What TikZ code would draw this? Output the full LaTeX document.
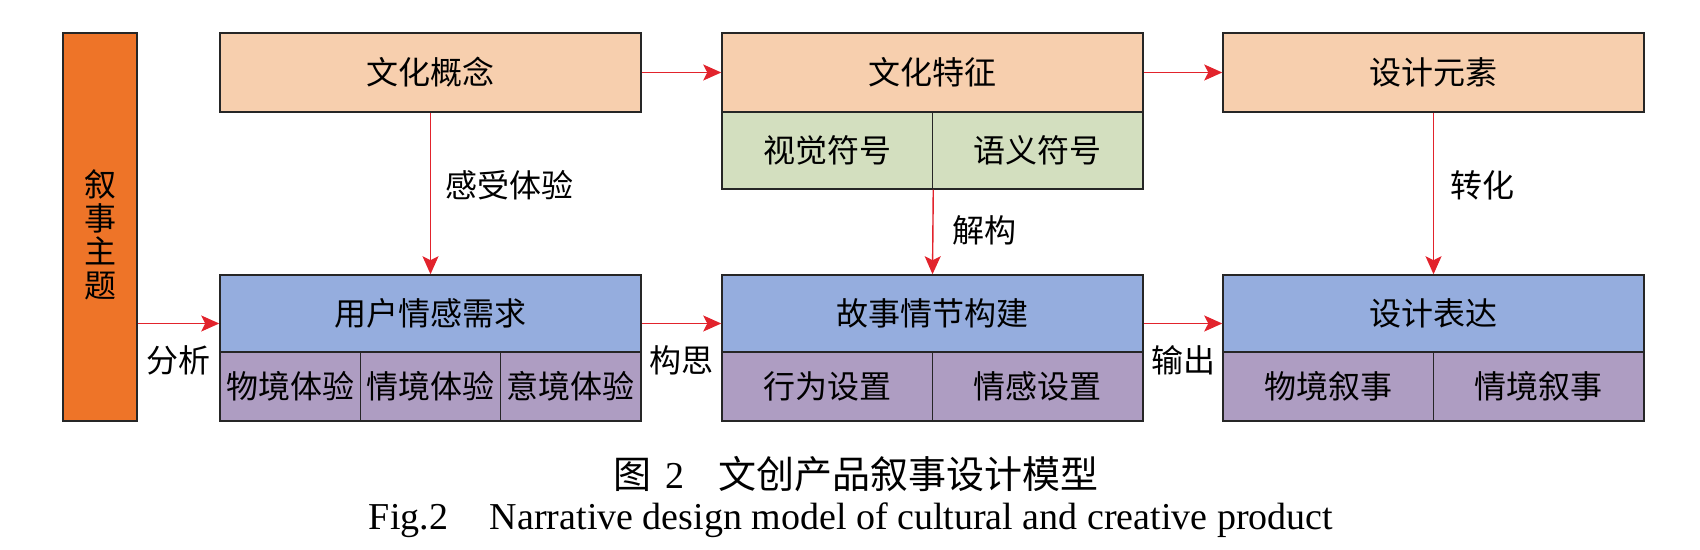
\documentclass[tikz,border=0pt]{standalone}
\usepackage{fontspec}
\setmainfont{Liberation Serif}
\newfontfamily\cjk{Noto Sans CJK SC}
\usetikzlibrary{arrows.meta,calc}
\definecolor{peach}{HTML}{F7CFAE}
\definecolor{sage}{HTML}{D3DFBF}
\definecolor{sky}{HTML}{95ADDE}
\definecolor{lilac}{HTML}{AE9DC2}
\definecolor{amber}{HTML}{EE7428}
\definecolor{arrred}{HTML}{E2232C}
\tikzset{
  box/.style={draw=black!85,line width=0.75pt,inner sep=0pt,font=\cjk\fontsize{16}{18}\selectfont},
  topbox/.style={box,fill=peach,minimum width=210.5pt,minimum height=39.5pt},
  greenbox/.style={box,fill=sage,minimum width=105.25pt,minimum height=38.5pt},
  bluebox/.style={box,fill=sky,minimum width=210.5pt,minimum height=38.5pt},
  purp/.style={box,fill=lilac,minimum height=34.5pt},
  arr/.style={draw=arrred,line width=0.7pt,-{Stealth[length=9pt,width=8pt,inset=2pt]}},
  lbl/.style={inner sep=0pt,font=\cjk\fontsize{16}{18}\selectfont},
}
\begin{document}
\begin{tikzpicture}[x=0.5pt,y=-0.5pt]
\useasboundingbox (0,0) rectangle (1700,550);
% left bar
\node[box,fill=amber,minimum width=37pt,minimum height=194pt] (theme) at (100,227) {};
\node[inner sep=0pt,align=center,font=\cjk\fontsize{16}{16.8}\selectfont] (themetext) at (100,235) {叙\\事\\主\\题};
% top row
\node[topbox] (t1) at (430.5,72.5) {文化概念};
\node[topbox] (t2) at (932.5,72.5) {文化特征};
\node[topbox] (t3) at (1433.5,72.5) {设计元素};
\node[greenbox] (g1) at (827.25,150.5) {视觉符号};
\node[greenbox] (g2) at (1037.75,150.5) {语义符号};
% bottom row
\node[bluebox] (b1) at (430.5,313.5) {用户情感需求};
\node[bluebox] (b2) at (932.5,313.5) {故事情节构建};
\node[bluebox] (b3) at (1433.5,313.5) {设计表达};
\node[purp,minimum width=70.17pt] (p11) at (290.17,386.5) {物境体验};
\node[purp,minimum width=70.17pt] (p12) at (430.5,386.5) {情境体验};
\node[purp,minimum width=70.17pt] (p13) at (570.83,386.5) {意境体验};
\node[purp,minimum width=105.25pt] (p21) at (827.25,386.5) {行为设置};
\node[purp,minimum width=105.25pt] (p22) at (1037.75,386.5) {情感设置};
\node[purp,minimum width=105.25pt] (p31) at (1328.25,386.5) {物境叙事};
\node[purp,minimum width=105.25pt] (p32) at (1538.75,386.5) {情境叙事};
% arrows top
\draw[arr] (t1.east) -- (t2.west);
\draw[arr] (t2.east) -- (t3.west);
% vertical arrows
\draw[arr] (t1.south) -- (b1.north);
\draw[arr] (g1.south east) -- (b2.north);
\draw[arr] (t3.south) -- (b3.north);
% bottom horizontal arrows
\coordinate (a1) at ([yshift=-5pt]b1.west);
\coordinate (a2e) at ([yshift=-5pt]b1.east);
\coordinate (a2) at ([yshift=-5pt]b2.west);
\coordinate (a3e) at ([yshift=-5pt]b2.east);
\coordinate (a3) at ([yshift=-5pt]b3.west);
\draw[arr] (theme.east |- a1) -- (a1);
\draw[arr] (a2e) -- (a2);
\draw[arr] (a3e) -- (a3);
% labels
\node[lbl,anchor=west] (l1) at ([xshift=7.5pt]$(t1.south)!0.45!(b1.north)$) {感受体验};
\node[lbl,anchor=west] (l2) at ([xshift=9.5pt]$(g1.south east)!0.48!(b2.north)$) {解构};
\node[lbl,anchor=west] (l3) at ([xshift=8.5pt]$(t3.south)!0.45!(b3.north)$) {转化};
\node[lbl] (l4) at ([yshift=-18.5pt]$(theme.east |- a1)!0.5!(a1)$) {分析};
\node[lbl] (l5) at ([yshift=-18.5pt]$(a2e)!0.5!(a2)$) {构思};
\node[lbl] (l6) at ([yshift=-18.5pt]$(a3e)!0.5!(a3)$) {输出};
% captions
\node[inner sep=0pt,font=\fontsize{19}{21}\selectfont] (cap1) at (856,474) {{\cjk 图}\hspace{0.35em}2\hspace{0.9em}{\cjk 文创产品叙事设计模型}};
\node[inner sep=0pt,font=\fontsize{19}{21}\selectfont] (cap2) at (851,520) {Fig.2\hspace{1.1em}Narrative design model of cultural and creative product};
\end{tikzpicture}
\end{document}
